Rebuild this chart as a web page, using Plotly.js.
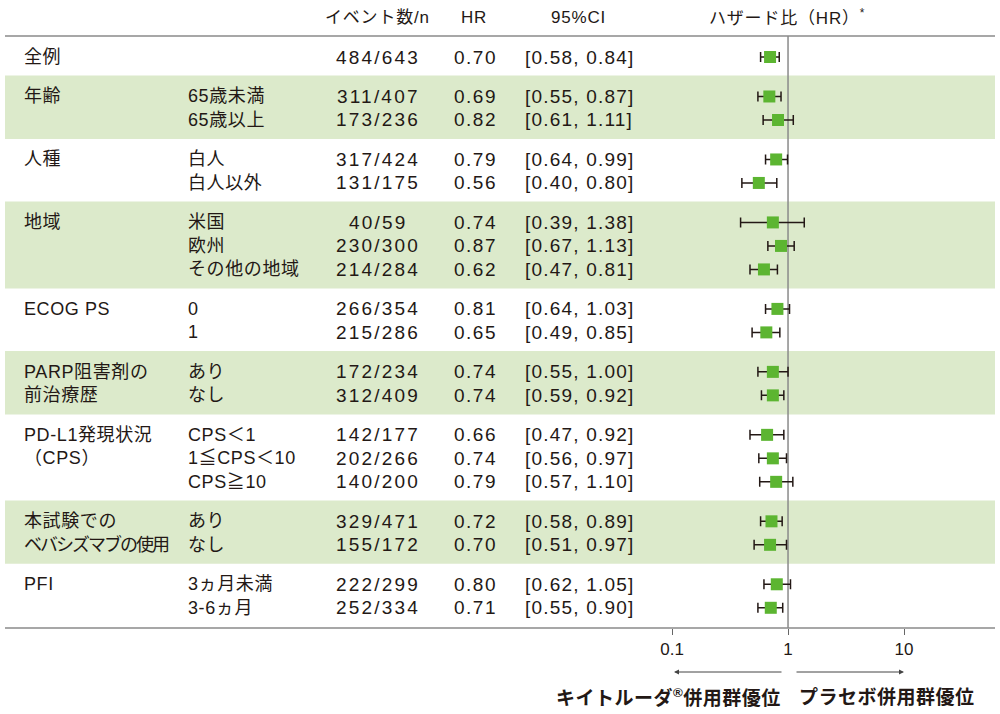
<!DOCTYPE html>
<html>
<head>
<meta charset="utf-8">
<script src="https://cdn.plot.ly/plotly-3.0.1.min.js"></script>
<style>
  body { margin: 0; background: #fff }
  #forest { width: 1000px; height: 714px }
</style>
</head>
<body>
<div id="forest"></div>
<script>
// subgroup table (one entry per row)
const groupLabels = [['全例'], ['年齢'], ['人種'], ['地域'], ['ECOG PS'], ['PARP阻害剤の', '前治療歴'],
  ['PD-L1発現状況', '（CPS）'], ['本試験での', 'ベバシズマブの使用'], ['PFI']]
const groupSizes = [1, 2, 2, 3, 2, 2, 3, 2, 2]
const shadedGroups = [false, true, false, true, false, true, false, true, false]

const subgroups = ['', '65歳未満', '65歳以上', '白人', '白人以外', '米国', '欧州', 'その他の地域', '0', '1',
  'あり', 'なし', 'CPS＜1', '1≦CPS＜10', 'CPS≧10', 'あり', 'なし', '3ヵ月未満', '3-6ヵ月']
const events = ['484/643', '311/407', '173/236', '317/424', '131/175', '40/59', '230/300', '214/284', '266/354',
  '215/286', '172/234', '312/409', '142/177', '202/266', '140/200', '329/471', '155/172', '222/299', '252/334']
const hr = [0.70, 0.69, 0.82, 0.79, 0.56, 0.74, 0.87, 0.62, 0.81, 0.65, 0.74, 0.74, 0.66, 0.74, 0.79, 0.72, 0.70, 0.80, 0.71]
const ciLow = [0.58, 0.55, 0.61, 0.64, 0.40, 0.39, 0.67, 0.47, 0.64, 0.49, 0.55, 0.59, 0.47, 0.56, 0.57, 0.58, 0.51, 0.62, 0.55]
const ciHigh = [0.84, 0.87, 1.11, 0.99, 0.80, 1.38, 1.13, 0.81, 1.03, 0.85, 1.00, 0.92, 0.92, 0.97, 1.10, 0.89, 0.97, 1.05, 0.90]

const headers = ['イベント数/n', 'HR', '95%CI', 'ハザード比（HR）<sup>*</sup>']
const tickVals = [0.1, 1, 10]
const tickText = ['0.1', '1', '10']
const refHR = 1
const favourLeft = 'キイトルーダ<sup>®</sup>併用群優位'
const favourRight = 'プラセボ併用群優位'

const ink = '#231815'
const rule = '#8a8a8a'
const band = '#dceacb'
const green = '#5cb531'
const font = '"Liberation Sans", "Noto Sans CJK JP", sans-serif'
const groupGap = 0.68

function spaced(s, px) {
  return '<span style="letter-spacing:' + px + 'px">' + s + '</span>'
}

// row positions in "row" units, extra gap between groups
let rowPos = []
let groupFirst = []
let p = 0
groupSizes.forEach((n, g) => {
  if (g > 0) p += groupGap
  groupFirst.push(rowPos.length)
  for (let i = 0; i < n; i++) {
    rowPos.push(p)
    p += 1
  }
})

let annotations = []
let shapes = []

function cell(text, xpx, y, anchor, size) {
  annotations.push({
    text: text, x: xpx / 1000, y: y, xref: 'paper', yref: 'y',
    xanchor: anchor, yanchor: 'middle', showarrow: false,
    font: { family: font, size: size || 18, color: ink }
  })
}

groupLabels.forEach((lines, g) => {
  let first = groupFirst[g]
  let last = first + groupSizes[g] - 1
  // runs of katakana are set tighter in the print
  lines.forEach((line, i) => cell(spaced(line, /[ァ-ヶ]{4,}/.test(line) ? -2 : 0.6), 22, rowPos[first + i], 'left'))
  if (shadedGroups[g]) {
    shapes.push({
      type: 'rect', layer: 'below', xref: 'paper', yref: 'y',
      x0: 0.005, x1: 0.995, y0: rowPos[first] - 0.89, y1: rowPos[last] + 0.81,
      fillcolor: band, line: { width: 0 }
    })
  }
})

rowPos.forEach((y, i) => {
  cell(spaced(subgroups[i], 0.6), 186, y, 'left')
  cell(spaced(events[i], 2.2), 378, y, 'center', 19)
  cell(spaced(hr[i].toFixed(2), 1.5), 475, y, 'center', 19)
  cell(spaced('[' + ciLow[i].toFixed(2) + ', ' + ciHigh[i].toFixed(2) + ']', 1.2), 579, y, 'center', 19)
})

// header row
const headerX = [377, 474, 578, 787]
headers.forEach((h, i) => {
  annotations.push({
    text: spaced(h, 0.8), x: headerX[i] / 1000, y: 1 - 17 / 714, xref: 'paper', yref: 'paper',
    xanchor: 'center', yanchor: 'middle', showarrow: false,
    font: { family: font, size: 17, color: ink }
  })
})

// rules above and below the table
shapes.push({ type: 'line', xref: 'paper', yref: 'paper', x0: 0.005, x1: 0.995, y0: 1 - 36 / 714, y1: 1 - 36 / 714, line: { color: rule, width: 1.5 } })
shapes.push({ type: 'line', xref: 'paper', yref: 'paper', x0: 0.005, x1: 0.995, y0: 1 - 628 / 714, y1: 1 - 628 / 714, line: { color: rule, width: 1.5 } })

// favour arrows and labels
annotations.push({ text: '', x: 0.674, y: 1 - 672 / 714, xref: 'paper', yref: 'paper', ax: 109, ay: 0,
  showarrow: true, arrowhead: 2, arrowsize: 1, arrowwidth: 1, arrowcolor: '#444' })
annotations.push({ text: '', x: 0.904, y: 1 - 672 / 714, xref: 'paper', yref: 'paper', ax: -109, ay: 0,
  showarrow: true, arrowhead: 2, arrowsize: 1, arrowwidth: 1, arrowcolor: '#444' })
annotations.push({ text: '<b>' + spaced(favourLeft, 0.5) + '</b>', x: 0.783, y: 1 - 697 / 714, xref: 'paper', yref: 'paper',
  xanchor: 'right', yanchor: 'middle', showarrow: false, font: { family: font, size: 19, color: ink } })
annotations.push({ text: '<b>' + spaced(favourRight, 0.5) + '</b>', x: 0.797, y: 1 - 697 / 714, xref: 'paper', yref: 'paper',
  xanchor: 'left', yanchor: 'middle', showarrow: false, font: { family: font, size: 19, color: ink } })

const refLine = {
  x: [refHR, refHR], y: [-0.894, 24.3], mode: 'lines', type: 'scatter',
  line: { color: rule, width: 1.5 }, hoverinfo: 'none', showlegend: false
}

const points = {
  x: hr, y: rowPos, mode: 'markers', type: 'scatter', hoverinfo: 'none', showlegend: false,
  marker: { symbol: 'square', size: 12, color: green },
  error_x: {
    type: 'data', symmetric: false,
    array: hr.map((v, i) => ciHigh[i] - v),
    arrayminus: hr.map((v, i) => v - ciLow[i]),
    color: ink, thickness: 1.5, width: 5
  }
}

const layout = {
  width: 1000, height: 714,
  margin: { l: 0, r: 0, t: 0, b: 0 },
  paper_bgcolor: '#fff', plot_bgcolor: 'rgba(0,0,0,0)',
  showlegend: false,
  xaxis: {
    type: 'log', domain: [0.64, 0.995], range: [-1.276, 1.784],
    tickvals: tickVals, ticktext: tickText, ticks: 'outside', ticklen: 6, tickwidth: 1, tickcolor: '#666',
    showgrid: false, zeroline: false, showline: false,
    tickfont: { family: font, size: 17, color: ink }, anchor: 'y'
  },
  yaxis: {
    domain: [1 - 628 / 714, 1], range: [24.3, -2.426], visible: false, fixedrange: true
  },
  shapes: shapes,
  annotations: annotations
}

Plotly.newPlot('forest', [refLine, points], layout, { staticPlot: true })
</script>
</body>
</html>
